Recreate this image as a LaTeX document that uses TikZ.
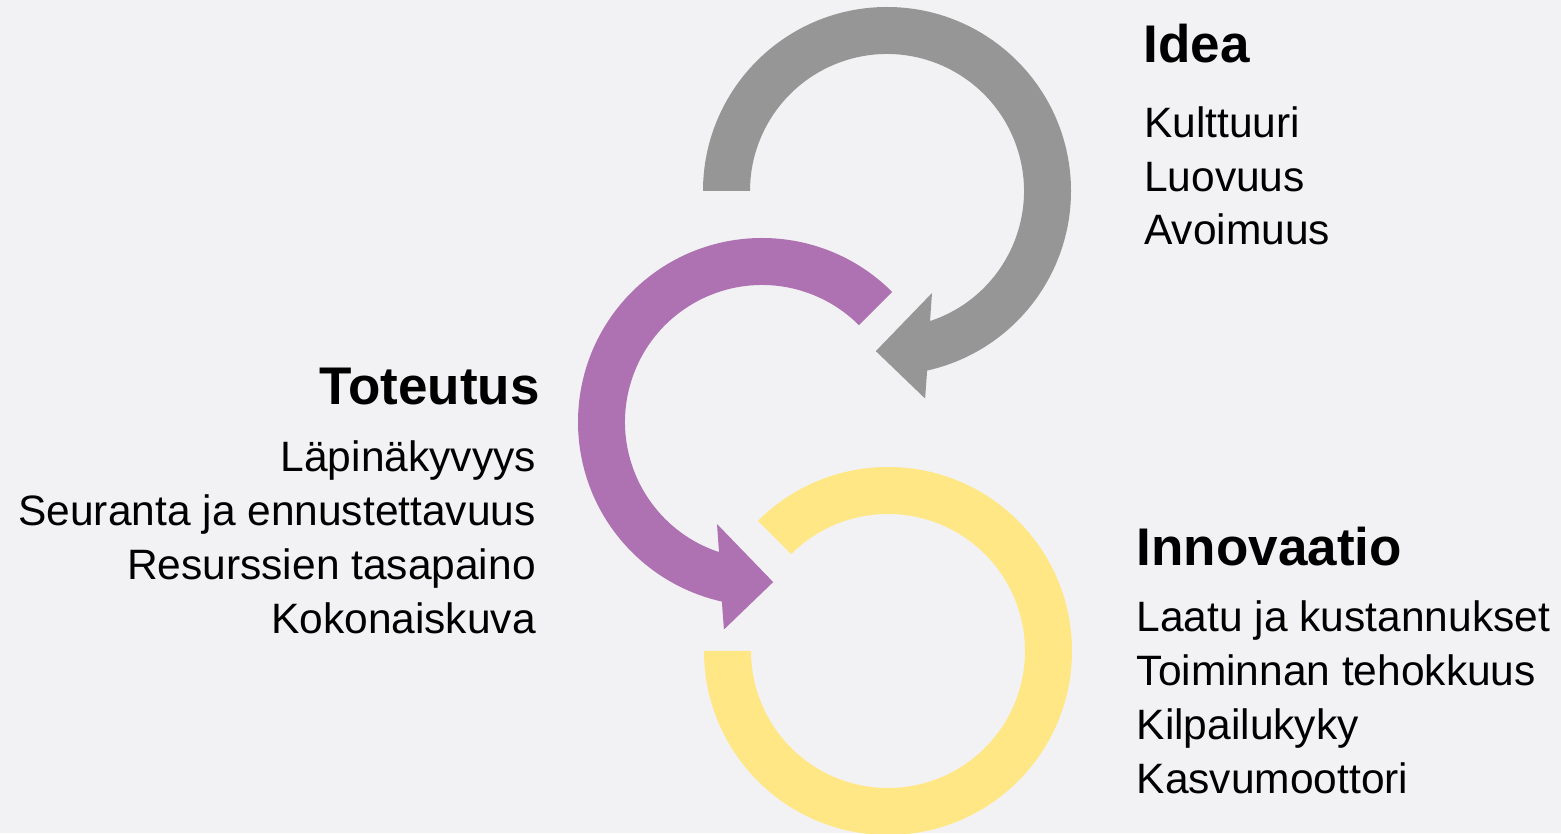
\documentclass[tikz,border=0pt]{standalone}
\usepackage{fontspec}
\setmainfont{Liberation Sans}
\usepackage{tikz}
\usetikzlibrary{calc}

\definecolor{bgcol}{HTML}{F2F2F4}
\definecolor{ideacol}{HTML}{969696}
\definecolor{totcol}{HTML}{AE72B2}
\definecolor{innocol}{HTML}{FFE785}

\begin{document}
\begin{tikzpicture} [x=1pt, y=1pt,
  heading/.style={inner sep=0, font=\bfseries\fontsize{53}{60}\selectfont},
  item/.style={inner sep=0, font=\fontsize{42.5}{50}\selectfont}]

\useasboundingbox (0,0) rectangle (1561,833);
\fill[bgcol] (0,0) rectangle (1561,833);
\clip (0,0) rectangle (1561,833);

% gray arrow
\begin{scope}[shift={(887,642)}]
\fill[ideacol] (180:184pt) arc[start angle=180, end angle=-77.4, radius=184pt]
  -- (-79.6:211pt) -- (-94:160.5pt) -- (-66.2:111.5pt) -- (-71.7:137pt)
  arc[start angle=-71.7, end angle=180, radius=137pt] -- cycle;
\end{scope}

% purple arrow
\begin{scope}[shift={(762,411)}]
\fill[totcol] (45:184pt) arc[start angle=45, end angle=257.4, radius=184pt]
  -- (259.6:211pt) -- (274:160.5pt) -- (246.2:111.5pt) -- (251.7:137pt)
  arc[start angle=251.7, end angle=45, radius=137pt] -- cycle;
\end{scope}

% yellow ring
\begin{scope}[shift={(888,182)}]
\fill[innocol] (180:184pt) arc[start angle=180, end angle=495, radius=184pt]
  -- (135:137pt) arc[start angle=135, end angle=-180, radius=137pt] -- cycle;
\end{scope}

\node[heading, anchor=base west] (idea) at (1143.5,770) {Idea};
\foreach \txt [count=\i from 0] in {Kulttuuri,Luovuus,Avoimuus} {
 \node[item, anchor=base west] (idea-\i) at (1144,{695-53.5*\i}) {\txt};
};

\node[heading, anchor=base east] (tot) at (540,428) {Toteutus};
\foreach \txt [count=\i from 0] in {Läpinäkyvyys,Seuranta ja ennustettavuus,Resurssien tasapaino,Kokonaiskuva} {
 \node[item, anchor=base east] (tot-\i) at (536,{361-53.7*\i}) {\txt};
};

\node[heading, anchor=base west] (inno) at (1136.5,267) {Innovaatio};
\foreach \txt [count=\i from 0] in {Laatu ja kustannukset,Toiminnan tehokkuus,Kilpailukyky,Kasvumoottori} {
 \node[item, anchor=base west] (inno-\i) at (1136.5,{201-53.7*\i}) {\txt};
};

\end{tikzpicture}
\end{document}
